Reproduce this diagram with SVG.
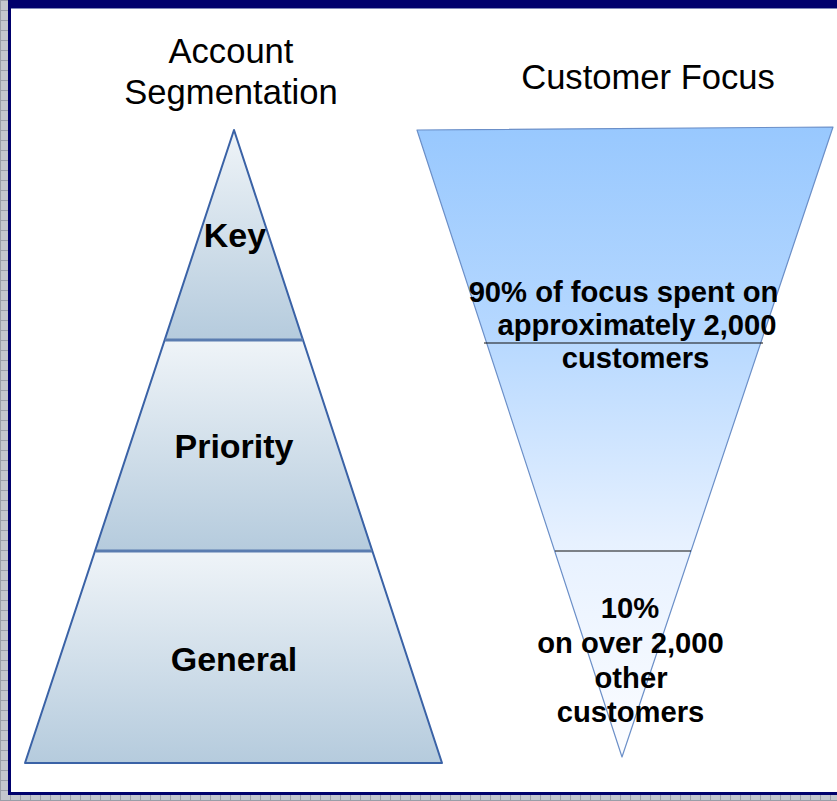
<svg xmlns="http://www.w3.org/2000/svg" width="837" height="801" viewBox="0 0 837 801">
  <defs>
    <pattern id="grid" width="10" height="10" patternUnits="userSpaceOnUse">
      <rect width="10" height="10" fill="#c3c6ce"/>
      <path d="M0 0.5H10M0.5 0V10" stroke="#9a9ea8" stroke-width="1"/>
    </pattern>
    <linearGradient id="band" x1="0" y1="0" x2="0" y2="1">
      <stop offset="0" stop-color="#eff4f8"/>
      <stop offset="1" stop-color="#b5cbdd"/>
    </linearGradient>
    <linearGradient id="funnel" gradientUnits="userSpaceOnUse" x1="0" y1="127" x2="0" y2="757">
      <stop offset="0" stop-color="#98c8fe"/>
      <stop offset="0.33" stop-color="#b6d8ff"/>
      <stop offset="0.66" stop-color="#e7f1ff"/>
      <stop offset="1" stop-color="#fcfdff"/>
    </linearGradient>
    <style>
      .head { font-family: "Liberation Sans", Arial, sans-serif; font-size: 34.6px; fill: #000; text-anchor: middle; }
      .lab { font-family: "Liberation Sans", Arial, sans-serif; font-size: 34px; font-weight: bold; fill: #000; text-anchor: middle; }
      .note { font-family: "Liberation Sans", Arial, sans-serif; font-size: 29.2px; font-weight: bold; fill: #000; text-anchor: middle; }
      .band { fill: url(#band); stroke: none; }
      .edge { fill: none; stroke: #3a62a6; stroke-width: 2; stroke-linejoin: round; }
      .div { stroke: #5a7cb0; stroke-width: 3; }
      .rule { stroke: #111; stroke-width: 1.2; }
    </style>
  </defs>

  <!-- page frame -->
  <rect width="837" height="801" fill="url(#grid)"/>
  <rect x="8" y="0" width="829" height="795" fill="#00006c"/>
  <rect x="11" y="8" width="826" height="1" fill="#8088b8"/>
  <rect x="11" y="9" width="826" height="783" fill="#ffffff"/>

  <!-- headings -->
  <g id="heading-left">
    <text class="head" x="231" y="63">Account</text>
    <text class="head" x="231" y="104">Segmentation</text>
  </g>
  <g id="heading-right">
    <text class="head" x="648" y="89">Customer Focus</text>
  </g>

  <!-- segmentation pyramid -->
  <g id="pyramid-key">
    <polygon class="band" points="234,130 165,340 303,340"/>
    <text class="lab" x="235" y="247">Key</text>
  </g>
  <g id="pyramid-priority">
    <polygon class="band" points="165,340 303,340 373,551 95,551"/>
    <text class="lab" x="234" y="458">Priority</text>
  </g>
  <g id="pyramid-general">
    <polygon class="band" points="95,551 373,551 442,763 25,763"/>
    <text class="lab" x="234" y="671">General</text>
  </g>
  <g id="pyramid-lines">
    <polygon class="edge" points="234,130 442,763 25,763"/>
    <line class="div" x1="165" y1="340" x2="303" y2="340"/>
    <line class="div" x1="96" y1="551" x2="372" y2="551"/>
  </g>

  <!-- focus funnel -->
  <g id="funnel">
    <polygon points="417,130 833,127 622,757" fill="url(#funnel)" stroke="#6b8fc8" stroke-width="1.2" stroke-linejoin="round"/>
    <line class="rule" x1="484" y1="343" x2="763" y2="343"/>
    <line class="rule" x1="555" y1="551" x2="691" y2="551"/>
  </g>
  <g id="funnel-top-note">
    <text class="note" x="623.5" y="302">90% of focus spent on</text>
    <text class="note" x="637" y="335">approximately 2,000</text>
    <text class="note" x="635.5" y="368">customers</text>
  </g>
  <g id="funnel-bottom-note">
    <text class="note" x="630" y="618">10%</text>
    <text class="note" x="630.5" y="653">on over 2,000</text>
    <text class="note" x="631" y="688">other</text>
    <text class="note" x="630.5" y="722">customers</text>
  </g>
</svg>
